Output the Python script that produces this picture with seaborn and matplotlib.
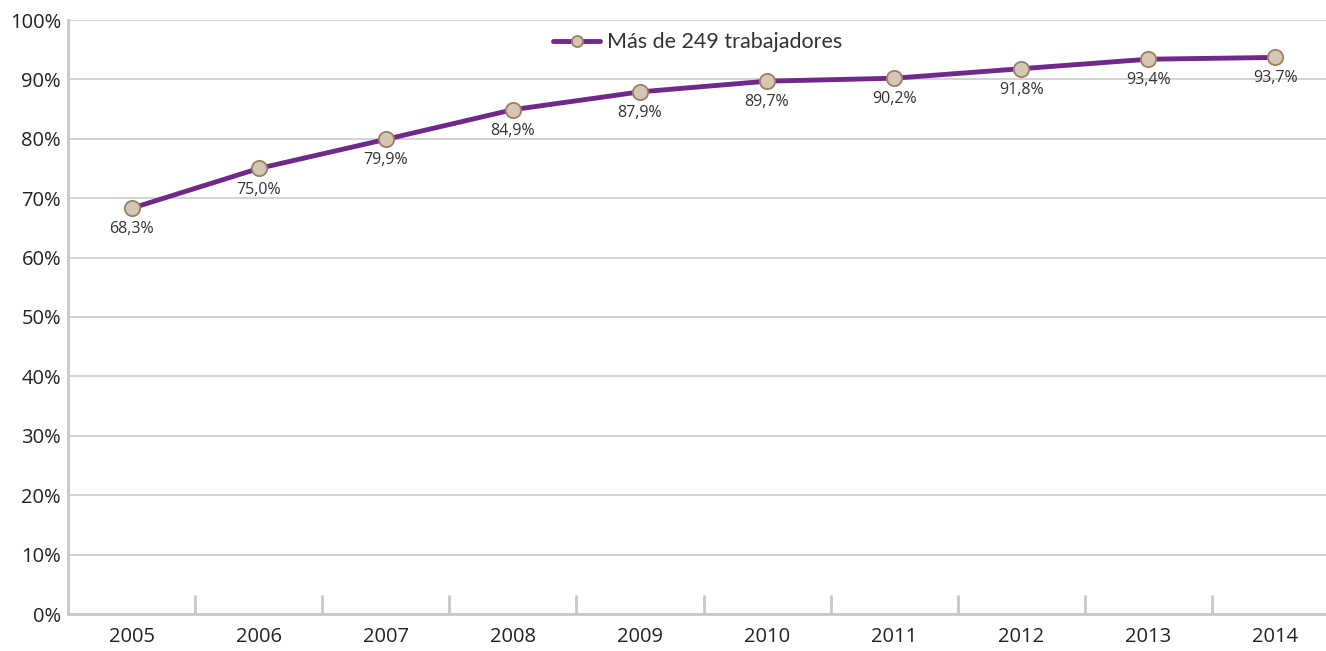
import pandas as pd
import numpy as np
import matplotlib.pyplot as plt
import seaborn as sns

# values
years = ["2005", "2006", "2007", "2008", "2009", "2010", "2011", "2012", "2013", "2014"]
share = [68.3, 75.0, 79.9, 84.9, 87.9, 89.7, 90.2, 91.8, 93.4, 93.7]
series_name = "Más de 249 trabajadores"

df = pd.DataFrame({"year": years, "share": share, "serie": series_name})
df["pos"] = np.arange(len(years))

sns.set_style("white")
plt.rcParams["font.family"] = ["Open Sans", "DejaVu Sans"]

fig = plt.figure(figsize=(13.26, 6.51), dpi=100)
ax = fig.add_axes([68 / 1326, 37 / 651, 1271 / 1326, 594 / 651])

line_color = "#70298a"
sns.lineplot(data=df, x="pos", y="share", hue="serie", palette=[line_color],
             linewidth=3.5, marker="o", markersize=11,
             markerfacecolor="#d6c6b4", markeredgecolor="#9b7f62",
             markeredgewidth=1.3, ax=ax)

for x, v in zip(df["pos"], df["share"]):
    ax.text(x, v - 2.2, f"{v:.1f}%".replace(".", ","), ha="center", va="top",
            fontsize=11.5, color="#333333")

ax.set_xlim(-0.5, len(years) - 0.5)
ax.set_ylim(0, 100)
ax.set_yticks(range(0, 101, 10))
ax.set_yticklabels([f"{t}%" for t in range(0, 101, 10)])
ax.set_xticks(df["pos"])
ax.set_xticklabels(years)
ax.set_xticks(np.arange(0.5, len(years) - 1, 1), minor=True)
ax.tick_params(axis="x", which="major", bottom=True, length=0, labelsize=14.5, pad=9, colors="#222222")
ax.tick_params(axis="x", which="minor", bottom=True, length=14, width=2, direction="in", color="#c8c8c8")
ax.tick_params(axis="y", length=0, labelsize=14.5, pad=5, colors="#222222")
ax.set_xlabel("")
ax.set_ylabel("")

ax.yaxis.grid(True, color="#cccccc", linewidth=1.2)
ax.set_axisbelow(True)
for side in ["top", "right"]:
    ax.spines[side].set_visible(False)
for side in ["left", "bottom"]:
    ax.spines[side].set_color("#c8c8c8")
    ax.spines[side].set_linewidth(2)

leg = ax.legend(loc="upper center", bbox_to_anchor=(0.5 - 6 / 1271, 1.012), frameon=False,
                fontsize=15.5, handlelength=2.2, handletextpad=0.3, title=None)
for h in leg.legend_handles:
    h.set_markersize(8)
for t in leg.get_texts():
    t.set_family(["Lato", "DejaVu Sans"])
    t.set_color("#333333")

fig.savefig("out.png", dpi=100)
